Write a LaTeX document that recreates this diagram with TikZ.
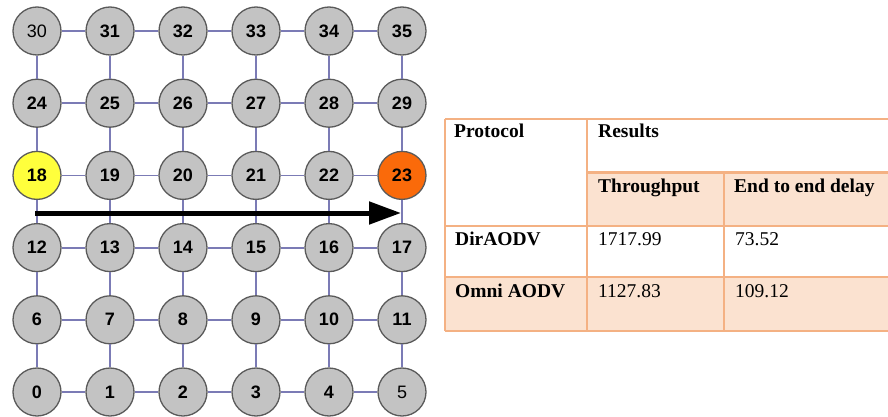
\documentclass[tikz,border=0pt]{standalone}
\usepackage{fontspec}
\setmainfont{Liberation Serif}
\newfontfamily\arialfont{Liberation Sans}
\usetikzlibrary{arrows.meta}

\definecolor{gridline}{HTML}{7B7BB5}
\definecolor{nodegray}{HTML}{C3C3C3}
\definecolor{nodeedge}{HTML}{5A5A5A}
\definecolor{srcyellow}{HTML}{FFFF3C}
\definecolor{dstorange}{HTML}{FA6A0A}
\definecolor{tabline}{HTML}{F4B183}
\definecolor{tabfill}{HTML}{FBE2D0}

\tikzset{
	mote/.style={circle, draw=nodeedge, line width=1.3pt, minimum size=48pt, inner sep=0pt, font=\arialfont\fontsize{18}{18}\selectfont},
	link/.style={draw=gridline, line width=1.8pt},
	celltext/.style={anchor=base west, inner sep=0pt, font=\fontsize{19.5}{20}\selectfont},
}

\begin{document}
\begin{tikzpicture}[x=1pt,y=-1pt]
		\useasboundingbox (0,0) rectangle (888,417);
		%\draw [help lines] (0,0) grid (888,417);
		% 6x6 mesh, node 0 bottom left
		\foreach \r in {0,...,5}{
			\foreach \c in {0,...,5}{
				\pgfmathtruncatemacro{\id}{6*\r+\c}
				\def\fillcol{nodegray}
				\ifnum\id=18 \def\fillcol{srcyellow}\fi
				\ifnum\id=23 \def\fillcol{dstorange}\fi
				\def\weight{\bfseries}
				\ifnum\id=30 \def\weight{}\fi
				\ifnum\id=5 \def\weight{}\fi
				\node[mote, fill=\fillcol] (n\id) at (37+73*\c, 392-72.2*\r) {\weight\id};
			}
		}
		\foreach \r in {0,...,5}{
			\foreach \c in {0,...,4}{
				\pgfmathtruncatemacro{\a}{6*\r+\c}
				\pgfmathtruncatemacro{\b}{\a+1}
				\draw[link] (n\a) -- (n\b);
			}
		}
		\foreach \r in {0,...,4}{
			\foreach \c in {0,...,5}{
				\pgfmathtruncatemacro{\a}{6*\r+\c}
				\pgfmathtruncatemacro{\b}{\a+6}
				\draw[link] (n\a) -- (n\b);
			}
		}

		% route from 18 to 23
		\coordinate (from) at (35,213);
		\coordinate (to) at (401,213);
		\draw[line width=5pt, -{Triangle[length=32pt,width=22pt]}] (from) -- (to);

		% results table
		\fill[tabfill] (587,172) rectangle (890,226);
		\fill[tabfill] (445,277) rectangle (890,331);
		\draw[tabline, line width=1.5pt] (445,119) -- (890,119);
		\draw[tabline, line width=3pt] (587,172) -- (890,172);
		\draw[tabline, line width=1.5pt] (445,226) -- (890,226);
		\draw[tabline, line width=1.5pt] (445,277) -- (890,277);
		\draw[tabline, line width=1.5pt] (445,331) -- (890,331);
		\draw[tabline, line width=1.5pt] (445,119) -- (445,331);
		\draw[tabline, line width=1.5pt] (587,119) -- (587,331);
		\draw[tabline, line width=1.5pt] (724,172) -- (724,331);

		\node[celltext] (protocol) at (454,138) {\bfseries Protocol};
		\node[celltext] (results) at (598,138) {\bfseries Results};
		\node[celltext] (thru) at (598,192) {\bfseries Throughput};
		\node[celltext] (delay) at (734,192) {\bfseries End to end delay};
		\node[celltext] (dir) at (455,245) {\bfseries DirAODV};
		\node[celltext] (dirthru) at (598,245) {1717.99};
		\node[celltext] (dirdelay) at (735,245) {73.52};
		\node[celltext] (omni) at (455,297) {\bfseries Omni AODV};
		\node[celltext] (omnithru) at (598,297) {1127.83};
		\node[celltext] (omnidelay) at (735,297) {109.12};
	\end{tikzpicture}
\end{document}
